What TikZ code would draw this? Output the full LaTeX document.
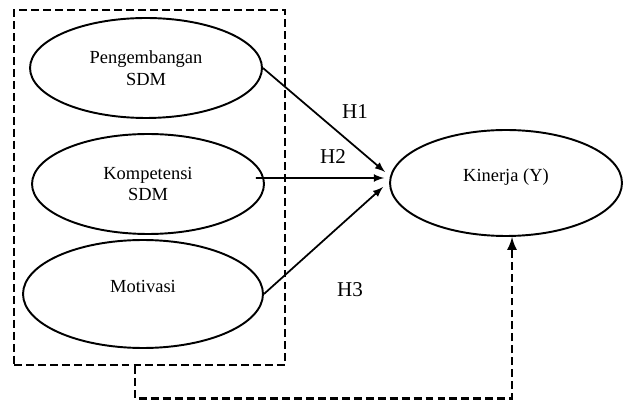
\documentclass[tikz,border=0pt]{standalone}
\usepackage{fontspec}
\setmainfont{Liberation Serif}
\usetikzlibrary{shapes.geometric,positioning}
\begin{document}
\begin{tikzpicture}[x=0.02cm,y=-0.02cm,
		var/.style={draw,ellipse,line width=1.1pt,inner sep=0pt,align=center,
			minimum width=4.64cm,minimum height=2cm,font=\fontsize{10.5}{12.5}\selectfont},
		hyp/.style={font=\fontsize{12}{14}\selectfont},
		path/.style={-latex,line width=1pt},
		link/.style={line width=1.5pt,dash pattern=on 4.5pt off 2.3pt}]
		% Set the size of the picture
		\def\wid{624}
		\def\hei{401}
		
		\useasboundingbox (0,0) rectangle (\wid,\hei);
		
		% Independent variables
		\node[var] (peng) at (146,68) {Pengembangan\\SDM};
		\node[var] (komp) at (148,184) {Kompetensi\\SDM};
		\node[var, minimum width=4.8cm, minimum height=2.16cm] (motiv) at (143,294) {};
		\node[font=\fontsize{10.5}{12.5}\selectfont] (motivtext) at (143,286) {Motivasi};
		\node[link, draw, minimum width=5.42cm, minimum height=7.1cm] (box) at (149.5,187.5) {};
		
		% Dependent variable
		\node[var, minimum height=2.12cm] (kin) at (506,183) {};
		\node[font=\fontsize{10.5}{12.5}\selectfont] (kintext) at (506,177) {Kinerja (Y)};
		
		% Hypotheses
		\draw[path] (peng.east) -- ([xshift=-0.08cm,yshift=0.22cm]kin.west);
		\draw[path] ([xshift=-0.18cm,yshift=0.12cm]komp.east) -- ([xshift=-0.1cm,yshift=0.1cm]kin.west);
		\draw[path] (motiv.east) -- ([xshift=-0.12cm,yshift=-0.08cm]kin.west);
		\node[hyp] (h1) at (355,112) {H1};
		\node[hyp] (h2) at (333,157) {H2};
		\node[hyp] (h3) at (350,290) {H3};
		
		% Simultaneous effect
		\draw[link,-latex] ([xshift=-0.29cm]box.south) -- ++(0,32) -| ([xshift=0.12cm]kin.south);
	\end{tikzpicture}
\end{document}
